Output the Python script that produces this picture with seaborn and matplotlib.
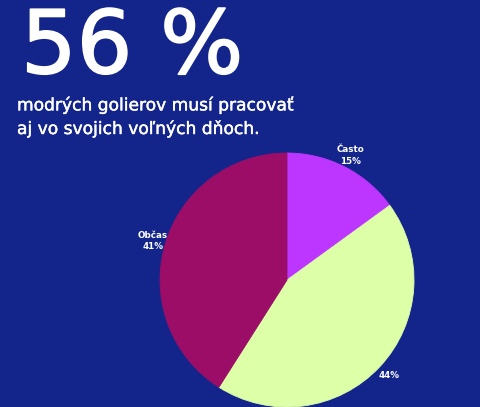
import matplotlib
matplotlib.use("Agg")
import matplotlib.pyplot as plt
import matplotlib.patheffects as pe
import seaborn as sns

# Data
categories = ["Často", "", "Občas"]
values = [15, 44, 41]
pct_labels = ["15%", "44%", "41%"]
headline = "56 %"
subtitle = "modrých golierov musí pracovať\naj vo svojich voľných dňoch."

bg = "#13258A"
palette = sns.color_palette(["#BC36FF", "#DCFFA8", "#9C0D68"])

sns.set_theme(style="white")
plt.rcParams["font.family"] = ["DejaVu Sans"]

fig = plt.figure(figsize=(4.8, 4.07), dpi=100)
fig.patch.set_facecolor(bg)

ax = fig.add_axes([160 / 480, 0.0, 254 / 480, 254 / 407])
ax.set_facecolor(bg)

labels = [(c + "\n" + p) if c else p for c, p in zip(categories, pct_labels)]
wedges, texts = ax.pie(values, labels=labels, colors=palette, startangle=90,
                       counterclock=False, labeldistance=1.1,
                       wedgeprops=dict(linewidth=0.6),
                       textprops=dict(color="white", fontsize=6.3,
                                      fontweight="bold", linespacing=1.3))
for w in wedges:
    w.set_edgecolor(w.get_facecolor())
for t in texts:
    t.set_ha("center")
    t.set_va("center")
ax.set_xlim(-1, 1)
ax.set_ylim(-1, 1)
ax.set_aspect("equal")
ax.axis("off")

h = fig.text(21 / 480, 1 - 73 / 407, headline, color="white", fontsize=63,
             ha="left", va="baseline")
h.set_path_effects([pe.withStroke(linewidth=1.2, foreground="white")])
s = fig.text(17 / 480, 1 - 134 / 407, subtitle, color="white", fontsize=12.3,
             ha="left", va="baseline", linespacing=1.4)
s.set_path_effects([pe.withStroke(linewidth=0.3, foreground="white")])

fig.savefig("out.png", dpi=100, facecolor=bg)
